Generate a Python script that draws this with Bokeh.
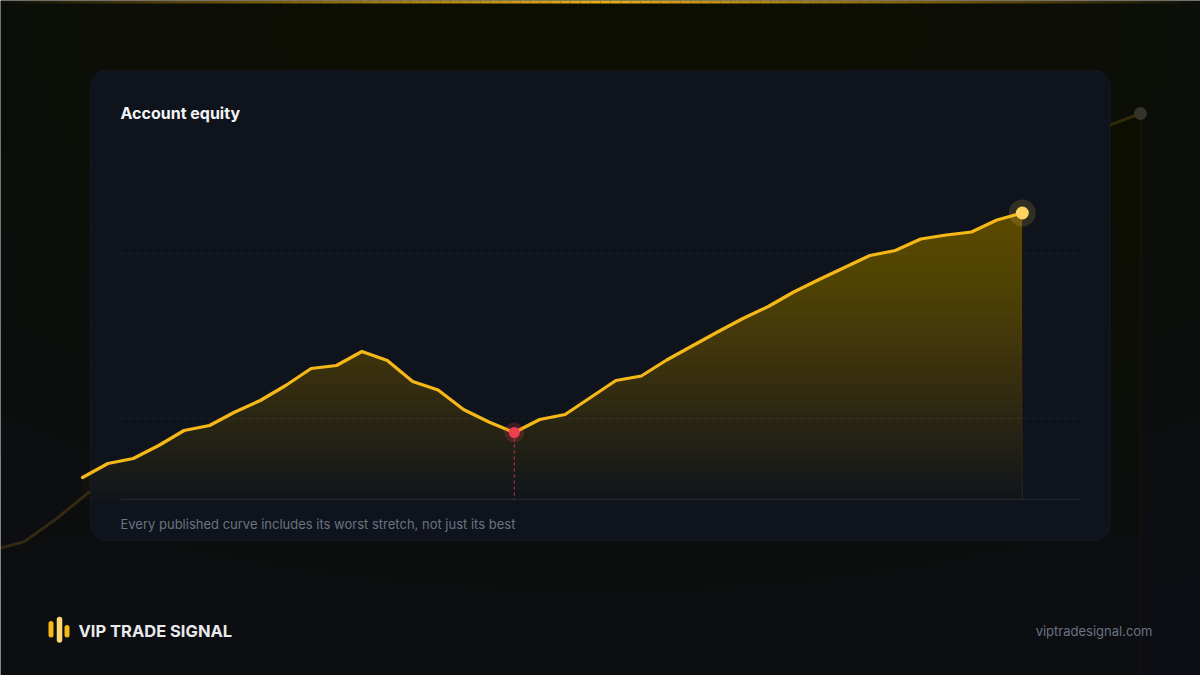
import numpy as np
from bokeh.plotting import figure
from bokeh.models import Range1d, BoxAnnotation, Label
from bokeh.embed import file_html
from bokeh.resources import INLINE

# ---------------- data ----------------
day = list(range(38))
equity = [8440, 8720, 8820, 9080, 9380, 9480, 9750, 9980, 10280, 10620,
          10680, 10960, 10780, 10360, 10190, 9800, 9550, 9340, 9600, 9700,
          10040, 10380, 10470, 10790, 11070, 11350, 11620, 11860, 12150, 12400,
          12640, 12880, 12980, 13210, 13290, 13350, 13590, 13730]
grid_levels = [9620, 12920]
base_level = 8000

title = "Account equity"
caption = "Every published curve includes its worst stretch, not just its best"
brand = "VIP TRADE SIGNAL"
site = "viptradesignal.com"

# ---------------- layout helpers ----------------
W, H = 1200, 675
X0, X1 = -82 / 25.4, (W - 82) / 25.4
Y0, Y1 = 8000 - 176 * 20, 8000 + 499 * 20


def px(xp):
    return X0 + xp / W * (X1 - X0)


def py(yp):
    return Y1 - yp / H * (Y1 - Y0)


BG = "#0c0e13"
GOLD = "#f5b818"

p = figure(width=W, height=H, x_range=Range1d(X0, X1), y_range=Range1d(Y0, Y1),
           toolbar_location=None, output_backend="svg", min_border=0,
           x_axis_location=None, y_axis_location=None)
p.grid.visible = False
p.outline_line_color = None
p.background_fill_color = BG
p.border_fill_color = BG

# soft warm glow near the top (many faint concentric ellipses)
ng = 16
for k in range(ng):
    f = 1 - k / ng
    w = 2000 * f + 400
    h = 1050 * f + 200
    r = p.ellipse(x=[px(600)], y=[py(30)], width=[w / W * (X1 - X0)],
                  height=[h / H * (Y1 - Y0)], fill_color="#2a1a0c",
                  fill_alpha=0.024, line_color=None)
    r.level = "image"

# ghost curve in background
p.extra_x_ranges = {"gx": Range1d(40 / 31.89, 1240 / 31.89)}
p.extra_y_ranges = {"gy": Range1d(13730 - 562 / 0.0872, 13730 + 113 / 0.0872)}
gbot = 13730 - 562 / 0.0872
geq = np.array(equity, dtype=float)
for t in np.linspace(gbot, max(equity), 9)[:-1]:
    r = p.varea(x=day, y1=[t] * len(day), y2=list(np.maximum(geq, t)),
                fill_color=GOLD, fill_alpha=0.0035,
                x_range_name="gx", y_range_name="gy")
    r.level = "image"
r = p.line(day, equity, line_color=GOLD, line_alpha=0.17, line_width=3,
           x_range_name="gx", y_range_name="gy")
r.level = "image"
r = p.segment(x0=[day[-1]], x1=[day[-1]], y0=[equity[-1]], y1=[gbot],
              line_color=GOLD, line_alpha=0.04, line_width=2,
              x_range_name="gx", y_range_name="gy")
r.level = "image"
r = p.scatter([day[-1]], [equity[-1]], size=13, fill_color="#35322a",
              line_color=None, x_range_name="gx", y_range_name="gy")
r.level = "image"

# top gold bar
n = 120
edges = np.linspace(0, W, n + 1)
cent = (edges[:-1] + edges[1:]) / 2
alphas = np.clip(1 - np.abs(cent - 600) / 600, 0, 1) ** 0.9
p.quad(left=[px(e) for e in edges[:-1]], right=[px(e) for e in edges[1:]],
       top=[py(0)] * n, bottom=[py(3)] * n, fill_color=GOLD,
       fill_alpha=list(alphas * 0.95), line_color=None)

# card
card = BoxAnnotation(left=px(90), right=px(1110), top=py(70), bottom=py(540),
                     fill_color="#0f141c", fill_alpha=1.0,
                     line_color="#232b37", line_width=1, border_radius=16,
                     level="underlay")
p.add_layout(card)

# grid lines and baseline
p.segment(x0=[px(120)] * len(grid_levels), x1=[px(1080)] * len(grid_levels),
          y0=grid_levels, y1=grid_levels, line_color="#1a212b",
          line_width=1, line_dash="4 4")
p.segment(x0=[px(120)], x1=[px(1080)], y0=[base_level], y1=[base_level],
          line_color="#222a36", line_width=1)

# gradient fill (stacked translucent layers)
eq = np.array(equity, dtype=float)
levels = np.linspace(base_level, max(equity), 31)[:-1]
for t in levels:
    p.varea(x=day, y1=[t] * len(day), y2=list(np.maximum(eq, t)),
            fill_color="#eea51e", fill_alpha=0.015)
p.segment(x0=[day[-1]], x1=[day[-1]], y0=[equity[-1]], y1=[base_level],
          line_color=GOLD, line_alpha=0.12, line_width=1)

# main line
p.line(day, equity, line_color=GOLD, line_width=3.2, line_join="round",
       line_cap="round")

# worst point = bottom of the largest drawdown
run_max = np.maximum.accumulate(eq)
i_min = int(np.argmin(eq - run_max))
p.segment(x0=[day[i_min]], x1=[day[i_min]], y0=[equity[i_min]],
          y1=[base_level], line_color="#d3384a", line_alpha=0.75,
          line_width=1.3, line_dash="3 3")
p.scatter([day[i_min]], [equity[i_min]], size=20, fill_color="#e23b4a",
          fill_alpha=0.22, line_color=None)
p.scatter([day[i_min]], [equity[i_min]], size=11, fill_color="#ef3e4f",
          line_color=None)

# latest point
p.scatter([day[-1]], [equity[-1]], size=27, fill_color="#ffd45e",
          fill_alpha=0.14, line_color=None)
p.scatter([day[-1]], [equity[-1]], size=13, fill_color="#ffd45e",
          line_color=None)

# texts
p.add_layout(Label(x=px(120), y=py(112), text=title, text_font="Inter",
                   text_font_size="16px", text_font_style="bold",
                   text_color="#f3f4f6", text_baseline="middle"))
p.add_layout(Label(x=px(120), y=py(523), text=caption, text_font="Inter",
                   text_font_size="13px", text_color="#6b7280",
                   text_baseline="middle"))
p.add_layout(Label(x=px(78), y=py(630), text=brand, text_font="Inter",
                   text_font_size="16.5px", text_font_style="bold",
                   text_color="#e8e9ec", text_baseline="middle"))
p.add_layout(Label(x=px(1152), y=py(630), text=site, text_font="Inter",
                   text_font_size="13px", text_color="#6b7280",
                   text_baseline="middle", text_align="right"))

# logo bars
p.segment(x0=[px(50.5), px(66.5)], x1=[px(50.5), px(66.5)],
          y0=[py(623), py(627)], y1=[py(634.5), py(634.5)],
          line_color=GOLD, line_width=5, line_cap="round")
p.segment(x0=[px(59)], x1=[px(59)], y0=[py(619)], y1=[py(639.5)],
          line_color="#fcd773", line_width=5.5, line_cap="round")

html = file_html(p, INLINE)
html = html.replace("<body>", '<body style="margin:0;background:%s;overflow:hidden">' % BG, 1)
open("out.html", "w").write(html)
